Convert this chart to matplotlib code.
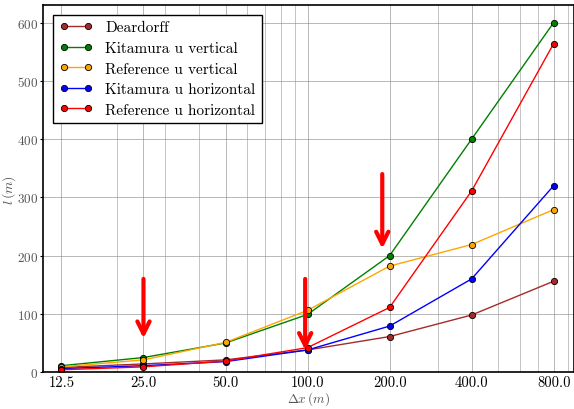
import numpy as np
import matplotlib
matplotlib.use("Agg")
import matplotlib.pyplot as plt
from matplotlib.ticker import LogLocator, NullFormatter

# ===============================
# Datos: longitud de mezcla vs resolución de malla
# ===============================
dx = [12.5, 25.0, 50.0, 100.0, 200.0, 400.0, 800.0]

deardorff = [8, 14, 21, 38, 61, 98, 156]
kitamura_v = [11, 25, 50, 99, 200, 400, 600]
reference_v = [9, 21, 51, 106, 182, 219, 279]
kitamura_h = [6, 11, 18, 38, 79, 160, 320]
reference_h = [4, 9, 19, 42, 111, 311, 564]

series = [
    ("Deardorff", deardorff, "brown"),
    ("Kitamura u vertical", kitamura_v, "green"),
    ("Reference u vertical", reference_v, "orange"),
    ("Kitamura u horizontal", kitamura_h, "blue"),
    ("Reference u horizontal", reference_h, "red"),
]

# flechas: (x, y_inicio, y_punta)
flechas_x = [25.0, 98.0, 188.0]
flechas_y0 = [160, 160, 340]
flechas_y1 = [58, 38, 212]

# ===============================
# Estilo
# ===============================
plt.rcParams["font.family"] = "serif"
plt.rcParams["font.serif"] = ["cmr10", "DejaVu Serif"]
plt.rcParams["mathtext.fontset"] = "cm"
plt.rcParams["axes.formatter.use_mathtext"] = True

fig, ax = plt.subplots(figsize=(5.74, 4.10), dpi=100)
fig.subplots_adjust(left=0.075, right=1.0, top=0.985, bottom=0.09)

for nombre, vals, col in series:
    ax.plot(dx, vals, "-o", color=col, lw=1.0, ms=4.5, mec="black",
            mew=0.6, mfc=col, label=nombre)

for x, y0, y1 in zip(flechas_x, flechas_y0, flechas_y1):
    ax.annotate("", xy=(x, y1), xytext=(x, y0),
                arrowprops=dict(arrowstyle="->", color="red", lw=3,
                                mutation_scale=22, shrinkA=0, shrinkB=0))

ax.set_xscale("log")
ax.set_xlim(10.7, 950)
ax.set_ylim(0, 630)
ax.set_xticks(dx)
ax.set_xticklabels(["%.1f" % v for v in dx], fontsize=10.5)
ax.xaxis.set_minor_locator(LogLocator(base=10, subs=np.arange(2, 10)))
ax.xaxis.set_minor_formatter(NullFormatter())
ax.set_yticks([0, 100, 200, 300, 400, 500, 600])
ax.tick_params(axis="y", labelsize=9.5, labelcolor="#555555", pad=1.5,
               length=2)
ax.tick_params(axis="x", which="both", length=0, pad=2)

ax.grid(True, which="major", color="#888888", lw=0.7, alpha=0.6)
ax.grid(True, which="minor", color="#888888", lw=0.7, alpha=0.5)

for s in ax.spines.values():
    s.set_linewidth(1.2)

ax.set_xlabel(r"$\Delta x\,(m)$", fontsize=9.5, color="#555555")
ax.set_ylabel(r"$l\,(m)$", fontsize=10, color="#555555")
ax.xaxis.set_label_coords(0.5, -0.046)
ax.yaxis.set_label_coords(-0.048, 0.5)

leg = ax.legend(loc="upper left", numpoints=2, fancybox=False,
                framealpha=1, edgecolor="black", fontsize=11,
                borderpad=0.4, labelspacing=0.45, handlelength=2.2,
                bbox_to_anchor=(0.005, 0.995))
leg.get_frame().set_linewidth(1.0)

plt.savefig("out.png", dpi=100)
